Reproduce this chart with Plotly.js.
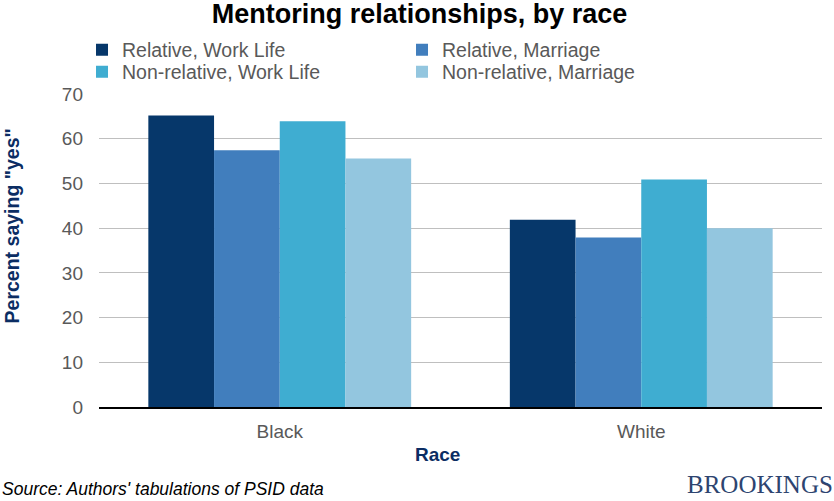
<!DOCTYPE html>
<html>
<head>
<meta charset="utf-8">
<script src="https://cdn.plot.ly/plotly-3.0.1.min.js"></script>
<style>html,body{margin:0;padding:0;background:#fff;}#chart{width:834px;height:501px;}</style>
</head>
<body>
<div id="chart"></div>
<script>
var categories = ["Black", "White"];
var seriesNames = ["Relative, Work Life", "Relative, Marriage", "Non-relative, Work Life", "Non-relative, Marriage"];
var relativeWork = [65.2, 41.9];
var relativeMarriage = [57.4, 37.9];
var nonrelativeWork = [63.9, 50.9];
var nonrelativeMarriage = [55.6, 40.0];
var yTicks = [0, 10, 20, 30, 40, 50, 60, 70];

var colors = ["#06376a", "#417ebd", "#3fadd1", "#93c6df"];
var values = [relativeWork, relativeMarriage, nonrelativeWork, nonrelativeMarriage];
var legendIds = ["legend", "legend", "legend2", "legend2"];

var traces = values.map(function (v, i) {
  return {
    type: "bar",
    name: seriesNames[i],
    x: categories,
    y: v,
    legend: legendIds[i],
    marker: {color: colors[i], line: {width: 0}},
    hoverinfo: "none"
  };
});

function legendRow(yPos) {
  return {
    orientation: "h",
    x: -0.0235, xanchor: "left",
    y: yPos, yanchor: "middle",
    entrywidth: 275,
    entrywidthmode: "pixels",
    traceorder: "normal",
    font: {size: 19.5, color: "#595959"},
    bgcolor: "rgba(0,0,0,0)",
    borderwidth: 0
  };
}

var layout = {
  width: 834,
  height: 501,
  margin: {l: 99, r: 12, t: 94, b: 94},
  paper_bgcolor: "#ffffff",
  plot_bgcolor: "#ffffff",
  barmode: "group",
  bargap: 0.273,
  bargroupgap: 0,
  font: {family: "Liberation Sans, Arial, sans-serif", color: "#595959", size: 19},
  title: {
    text: "<b>Mentoring relationships, by race</b>",
    font: {family: "Liberation Sans, Arial, sans-serif", size: 27, color: "#000000"},
    x: 0.503, xanchor: "center", xref: "container",
    y: 0.972, yanchor: "middle", yref: "container"
  },
  showlegend: true,
  legend: legendRow(1.1405),
  legend2: legendRow(1.0703),
  xaxis: {
    type: "category",
    tickfont: {size: 19, color: "#595959"},
    showgrid: false,
    showline: true,
    linecolor: "#000000",
    linewidth: 2,
    ticks: "",
    ticklabelstandoff: 6,
    fixedrange: true
  },
  yaxis: {
    range: [0, 70],
    tickvals: yTicks,
    ticktext: yTicks.map(String),
    tickfont: {size: 19, color: "#595959"},
    showgrid: true,
    gridcolor: "#bfbfbf",
    gridwidth: 1,
    zeroline: false,
    showline: false,
    ticks: "",
    ticklabelstandoff: 15,
    fixedrange: true
  },
  annotations: [
    {
      text: "<b>Percent saying \"yes\"</b>",
      textangle: -90,
      xref: "paper", yref: "paper",
      x: -0.1203, xanchor: "center",
      y: 0.577, yanchor: "middle",
      showarrow: false,
      font: {size: 19.5, color: "#0b2d63"}
    },
    {
      text: "<b>Race</b>",
      xref: "paper", yref: "paper",
      x: 0.4675, xanchor: "center",
      y: -0.153, yanchor: "middle",
      showarrow: false,
      font: {size: 19, color: "#0b2d63"}
    },
    {
      text: "<i>Source: Authors' tabulations of PSID data</i>",
      xref: "paper", yref: "paper",
      x: -0.137, xanchor: "left",
      y: -0.262, yanchor: "middle",
      showarrow: false,
      font: {size: 17.5, color: "#000000"}
    },
    {
      text: "BROOKINGS",
      xref: "paper", yref: "paper",
      x: 1.018, xanchor: "right",
      y: -0.249, yanchor: "middle",
      showarrow: false,
      font: {family: "Liberation Serif, Times New Roman, serif", size: 25, color: "#2d4470"}
    }
  ]
};

Plotly.newPlot("chart", traces, layout, {displayModeBar: false, staticPlot: true});
</script>
</body>
</html>
